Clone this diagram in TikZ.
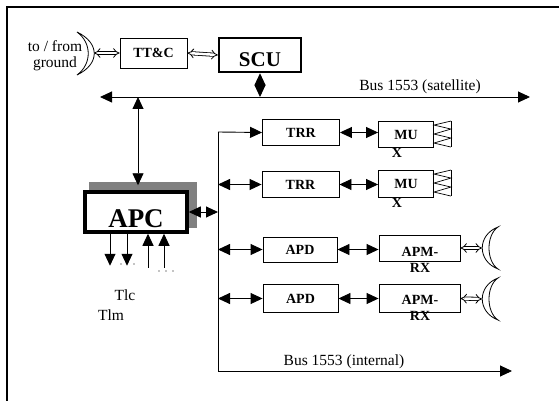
\documentclass[tikz,border=0pt]{standalone}
\usepackage{fontspec}
\setmainfont{Liberation Serif}
\usetikzlibrary{arrows.meta,positioning}

\begin{document}
\begin{tikzpicture}[x=1pt,y=-1pt,
    blk/.style={draw, line width=0.9pt, fill=white, inner sep=0pt, font=\bfseries\fontsize{14}{16}\selectfont},
    btxt/.style={inner sep=0pt, font=\bfseries\fontsize{14}{16.5}\selectfont},
    txt/.style={inner sep=0pt, font=\fontsize{15.5}{16}\selectfont},
    tip/.style={line width=0.9pt, -{Triangle[length=12pt,width=11pt]}},
    both/.style={line width=0.9pt, {Triangle[length=12pt,width=11pt]}-{Triangle[length=12pt,width=11pt]}},
    hollow/.style={double, double distance=2.5pt, line width=0.8pt, {Implies}-{Implies}}]

    \useasboundingbox (0,0) rectangle (559,401);
    % Frame
    \draw[line width=1.3pt] (559,7) -- (7,7) -- (7,401);

    % Ground link
    \node[txt, align=center] (gnd) at (55,56) {to / from\\ground};
    \draw[line width=0.8pt] (77,32) .. controls (100,43) and (100,64) .. (77,75)
      .. controls (92,64) and (92,43) .. cycle;
    \coordinate (ant0) at (94,53);
    \node[blk, minimum width=67, minimum height=30] (ttc) at (153.5,53) {TT\&C};
    \node[blk, line width=2.5pt, minimum width=82, minimum height=34, text height=24pt, text depth=0pt,
      font=\bfseries\fontsize{21}{24}\selectfont] (scu) at (260,55) {SCU};
    \draw[hollow] (ant0) -- (ttc.west);
    \draw[hollow] (ttc.east) -- (scu.west);

    % Satellite bus
    \coordinate (sl) at (100,97);
    \coordinate (sr) at (530,97);
    \coordinate (sa) at (138,97);
    \draw[both] (sl) -- (sr);
    \node[txt] (satbus) at (420,87) {Bus 1553 (satellite)};
    \draw[both] (scu.south) -- (scu.south |- sl);

    % APC with its shadow
    \fill[black!50] (89,182) rectangle (197,228);
    \node[blk, line width=3.5pt, minimum width=102, minimum height=40, text height=30pt, text depth=0pt,
      font=\bfseries\fontsize{27}{30}\selectfont] (apc) at (136,212) {APC};
    \draw[both, shorten >=5pt] (sa) -- (sa |- apc.north);
    \foreach \d in {-26,-9}
      \draw[tip] ([xshift=\d pt]apc.south) -- ++(0,32);
    \foreach \d in {12,28}
      \draw[tip] ([xshift=\d pt, yshift=-34pt]apc.south) -- ([xshift=\d pt]apc.south);
    \foreach \p in {(121,264),(134,264),(159,271),(166,271),(173,271)}
      \fill \p circle (0.7);
    \node[txt] (tlc) at (125,295) {Tlc};
    \node[txt] (tlm) at (111,315) {Tlm};

    % Internal bus
    \coordinate (itop) at (218,132);
    \coordinate (ibot) at (218,371);
    \coordinate (iend) at (512,371);
    \node[txt] (intbus) at (344,362) {Bus 1553 (internal)};

    \node[blk, minimum width=77, minimum height=26] (trr1) at (301,132.5) {TRR};
    \node[blk, minimum width=77, minimum height=26] (trr2) at (300.5,184.5) {TRR};
    \node[blk, minimum width=55, minimum height=26] (mux1) at (406,134.5) {MU\hspace{7pt}};
    \node[blk, minimum width=55, minimum height=27] (mux2) at (406,184) {MU\hspace{7pt}};
    \node[btxt] (x1) at (397,153) {X};
    \node[btxt] (x2) at (397,203) {X};
    \node[blk, minimum width=74, minimum height=25] (apd1) at (300,249.5) {APD};
    \node[blk, minimum width=75, minimum height=28] (apd2) at (300.5,298.5) {APD};
    \node[blk, minimum width=81, minimum height=26] (apm1) at (419.5,248) {};
    \node[blk, minimum width=81, minimum height=28] (apm2) at (419.5,298.5) {};
    \node[btxt, align=center] (apm1t) at (420,260) {APM-\\RX};
    \node[btxt, align=center] (apm2t) at (420,308) {APM-\\RX};

    \draw[tip] (itop) -- (trr1.west);
    \draw[tip] (itop) -- (ibot) -- (iend);
    \draw[both] (apc.east) -- (apc.east -| itop);
    \foreach \b in {trr2,apd1,apd2}
      \draw[both] (itop |- \b.west) -- (\b.west);
    \draw[both] (trr1.east) -- (trr1.east -| mux1.west);
    \draw[both] (trr2.east) -- (trr2.east -| mux2.west);
    \draw[both] (apd1.east) -- (apd1.east -| apm1.west);
    \draw[both] (apd2.east) -- (apd2.east -| apm2.west);

    % MUX antennas
    \foreach \m in {mux1,mux2}{
      \draw[line width=0.7pt] ([xshift=17pt]\m.north east) -- ++(0,26);
      \draw[line width=0.7pt] ([xshift=17pt]\m.north east) -- ++(-17,4) -- ++(17,4) -- ++(-17,5)
        -- ++(17,4) -- ++(-17,5) -- ++(17,4);
    }

    % Receiver antennas
    \coordinate (ant1) at (482,248);
    \coordinate (ant2) at (482,299);
    \foreach \a in {ant1,ant2}
      \draw[line width=0.8pt] ([shift={(16,-21)}]\a) .. controls ([shift={(-5,-13)}]\a) and ([shift={(-5,13)}]\a)
        .. ([shift={(16,21)}]\a) .. controls ([shift={(4,13)}]\a) and ([shift={(4,-13)}]\a) .. cycle;
    \draw[hollow] (apm1.east) -- (ant1);
    \draw[hollow] (apm2.east) -- (ant2);
  \end{tikzpicture}
\end{document}
